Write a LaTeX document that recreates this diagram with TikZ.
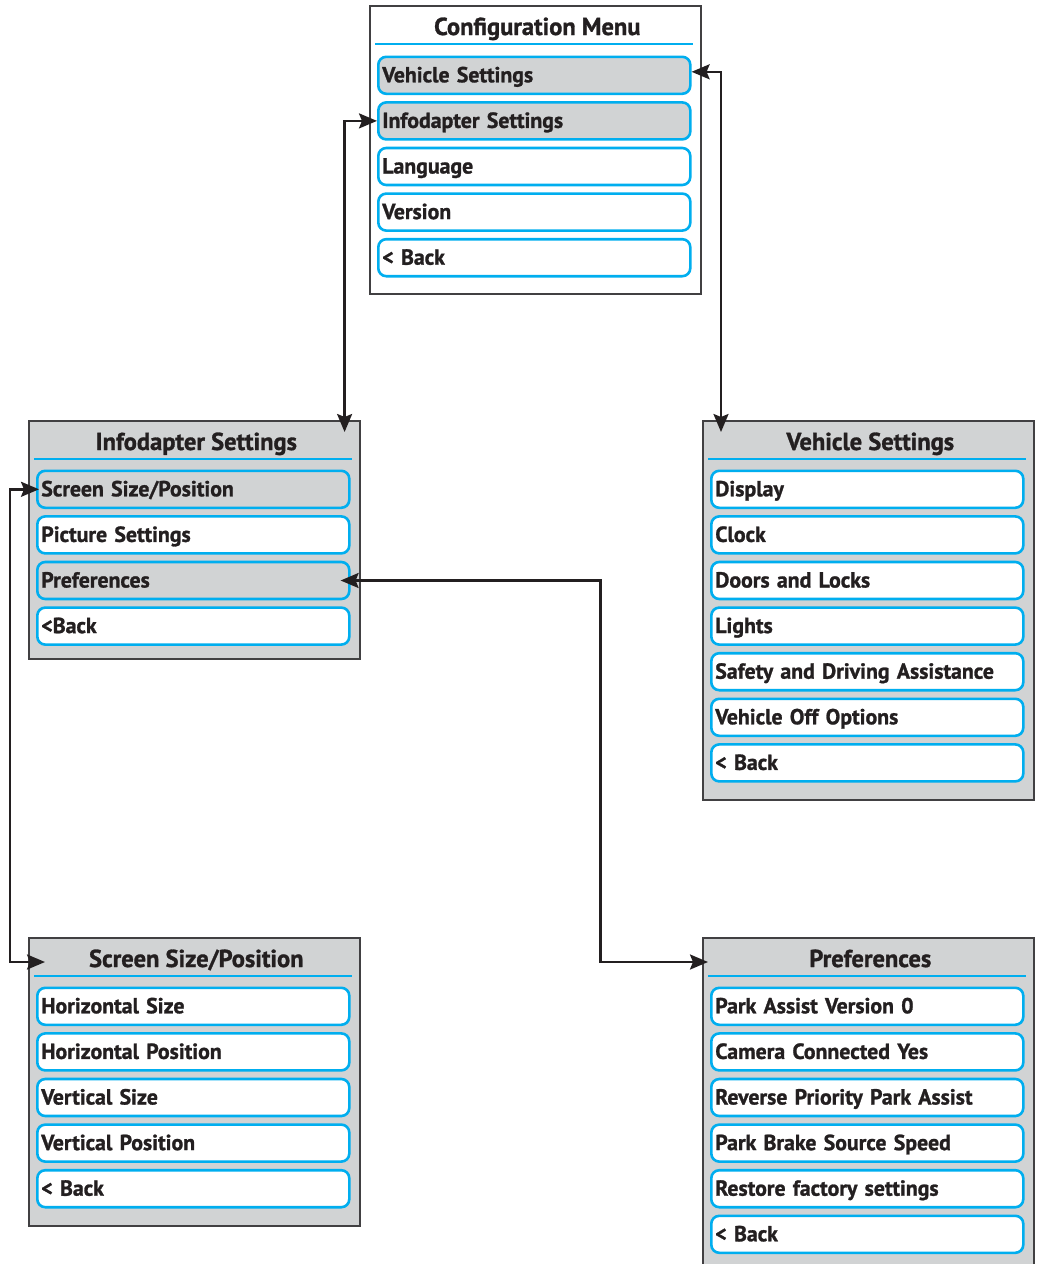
\documentclass[tikz,border=0pt]{standalone}
\usepackage{fontspec}
\setmainfont{PT Sans}[BoldFeatures={FakeBold=1.2}]
\usetikzlibrary{positioning,arrows.meta}
\definecolor{menublue}{HTML}{00AEEF}
\definecolor{menugray}{HTML}{D1D3D4}
\definecolor{framegray}{HTML}{414042}
\definecolor{linkblack}{HTML}{231F20}

\begin{document}
\begin{tikzpicture}[x=1pt,y=-1pt,
  every node/.style={font=\fontsize{21.8}{25}\selectfont\bfseries, text=linkblack},
  panel/.style={draw=framegray, line width=1.6pt, fill=menugray, minimum width=331pt, anchor=north west, inner sep=0pt},
  heading/.style={anchor=base, inner sep=0pt, font=\fontsize{24.5}{28}\selectfont\bfseries},
  rule/.style={draw=menublue, line width=2.6pt},
  item/.style={draw=menublue, line width=2.6pt, rounded corners=8pt, fill=white, minimum width=312pt, minimum height=37pt, text width=304pt, align=left, inner xsep=4pt, inner ysep=0pt, text height=17pt, text depth=3pt, anchor=north west},
  picked/.style={item, fill=menugray},
  node distance=6pt,
  link/.style={draw=linkblack, line width=2.4pt, {Stealth[length=18pt,width=15pt,inset=3pt]}-{Stealth[length=18pt,width=15pt,inset=3pt]}}]
\useasboundingbox (0,0) rectangle (1040,1264);

% configuration menu
\node[panel, fill=white, minimum height=288pt] (cfg) at (369,5) {};
\node[heading] (cfgtitle) at ([shift={(2,30)}]cfg.north) {Configuration Menu};
\draw[rule] ([shift={(6,39)}]cfg.north west) -- ([shift={(-9,39)}]cfg.north east);
\node[picked] (cfgveh) at ([shift={(8,50.5)}]cfg.north west) {Vehicle Settings};
\node[picked, below=of cfgveh] (cfginfo) {Infodapter Settings};
\node[item, below=of cfginfo] (cfglang) {Language};
\node[item, below=of cfglang] (cfgver) {Version};
\node[item, below=of cfgver] (cfgback) {< Back};

% infodapter settings
\node[panel, minimum height=238pt] (info) at (28,420) {};
\node[heading] (infotitle) at ([shift={(2,30)}]info.north) {Infodapter Settings};
\draw[rule] ([shift={(6,39)}]info.north west) -- ([shift={(-9,39)}]info.north east);
\node[picked] (infoscreen) at ([shift={(8,49.5)}]info.north west) {Screen Size/Position};
\node[item, below=of infoscreen] (infopic) {Picture Settings};
\node[picked, below=of infopic] (infopref) {Preferences};
\node[item, below=of infopref] (infoback) {<Back};

% vehicle settings
\node[panel, minimum height=379pt] (veh) at (702,420) {};
\node[heading] (vehtitle) at ([shift={(2,30)}]veh.north) {Vehicle Settings};
\draw[rule] ([shift={(6,39)}]veh.north west) -- ([shift={(-9,39)}]veh.north east);
\node[item] (vehdisp) at ([shift={(8,49.5)}]veh.north west) {Display};
\node[item, below=of vehdisp] (vehclock) {Clock};
\node[item, below=of vehclock] (vehdoors) {Doors and Locks};
\node[item, below=of vehdoors] (vehlights) {Lights};
\node[item, below=of vehlights] (vehsafety) {Safety and Driving Assistance};
\node[item, below=of vehsafety] (vehoff) {Vehicle Off Options};
\node[item, below=of vehoff] (vehback) {< Back};

% screen size/position
\node[panel, minimum height=288pt] (scrn) at (28,937) {};
\node[heading] (scrntitle) at ([shift={(2,30)}]scrn.north) {Screen Size/Position};
\draw[rule] ([shift={(6,39)}]scrn.north west) -- ([shift={(-9,39)}]scrn.north east);
\node[item] (scrnhsize) at ([shift={(8,49.5)}]scrn.north west) {Horizontal Size};
\node[item, below=of scrnhsize] (scrnhpos) {Horizontal Position};
\node[item, below=of scrnhpos] (scrnvsize) {Vertical Size};
\node[item, below=of scrnvsize] (scrnvpos) {Vertical Position};
\node[item, below=of scrnvpos] (scrnback) {< Back};

% preferences
\node[panel, minimum height=332pt] (pref) at (702,937) {};
\node[heading] (preftitle) at ([shift={(2,30)}]pref.north) {Preferences};
\draw[rule] ([shift={(6,39)}]pref.north west) -- ([shift={(-9,39)}]pref.north east);
\node[item] (prefpark) at ([shift={(8,49.5)}]pref.north west) {Park Assist Version 0};
\node[item, below=of prefpark] (prefcam) {Camera Connected Yes};
\node[item, below=of prefcam] (prefrev) {Reverse Priority Park Assist};
\node[item, below=of prefrev] (prefbrake) {Park Brake Source Speed};
\node[item, below=of prefbrake] (prefreset) {Restore factory settings};
\node[item, below=of prefreset] (prefback) {< Back};

% links
\coordinate (vehin) at ([shift={(19,12)}]veh.north west);
\coordinate (infoin) at ([shift={(-16,12)}]info.north east);
\coordinate (scrnin) at ([shift={(17,25)}]scrn.north west);
\coordinate (prefin) at ([shift={(6,25)}]pref.north west);
\draw[link] ([yshift=3.5pt]cfgveh.east) -| (vehin);
\draw[link] (cfginfo.west) -| (infoin);
\draw[link] ([xshift=3pt]infoscreen.west) -- ++(-29,0) |- (scrnin);
\draw[link] ([xshift=-10pt]infopref.east) -- ++(260,0) |- (prefin);
\end{tikzpicture}
\end{document}
